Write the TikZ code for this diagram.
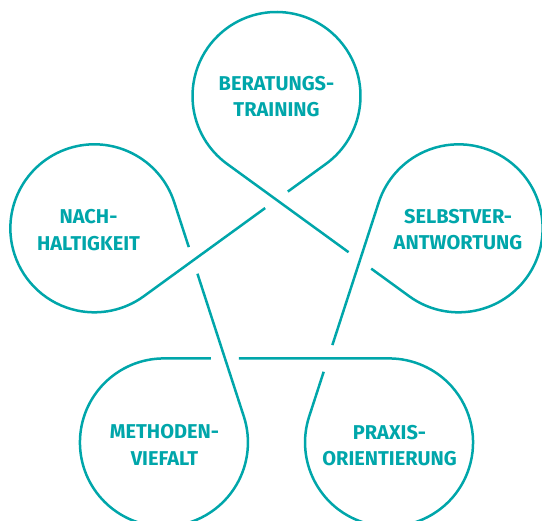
\documentclass[tikz,border=0pt]{standalone}
\usepackage{fontspec}
\setmainfont{Fira Sans}
\usetikzlibrary{calc}
\definecolor{tealk}{RGB}{0,166,170}
\begin{document}
\begin{tikzpicture}[x=1pt,y=-1pt,
  knot/.style={draw=tealk,line width=2.5pt},
  txt/.style={text=tealk,font=\fontsize{20}{26.5}\selectfont\bfseries,align=center,inner sep=0pt}]
\useasboundingbox (0,0) rectangle (542,521);
\clip (0,0) rectangle (542,521);
\coordinate (C) at (276.5,287.5);
\def\RR{191.5}
\def\rr{84}
\def\XD{103.83}
\def\GG{14}
\foreach \i in {0,...,4}{
  \pgfmathsetmacro\a{-90+72*\i}
  \pgfmathsetmacro\an{\a+72}
  \pgfmathsetmacro\ax{\a+180}
  \pgfmathsetmacro\anx{\an+180}
  \pgfmathsetmacro\dp{\a+54}
  \pgfmathsetmacro\dn{\a+126}
  \pgfmathsetmacro\nin{\a+144}
  \draw[knot] ($(C)+(\a:\RR)+(\ax:\XD)+(\dp:\GG)$) -- ($(C)+(\a:\RR)+(\nin:\rr)$)
     arc[start angle=\nin, delta angle=-288, radius=\rr]
     -- ($(C)+(\an:\RR)+(\anx:\XD)-(\dn:\GG)$);
}
\node[txt] (top) at (276.5,96.4) {BERATUNGS-\\TRAINING};
\node[txt] (left) at (88.5,230) {NACH-\\HALTIGKEIT};
\node[txt] (right) at (458,229.5) {SELBSTVER-\\ANTWORTUNG};
\node[txt] (bl) at (164.5,445) {METHODEN-\\VIEFALT};
\node[txt] (br) at (389.5,445.5) {PRAXIS-\\ORIENTIERUNG};
\end{tikzpicture}
\end{document}
